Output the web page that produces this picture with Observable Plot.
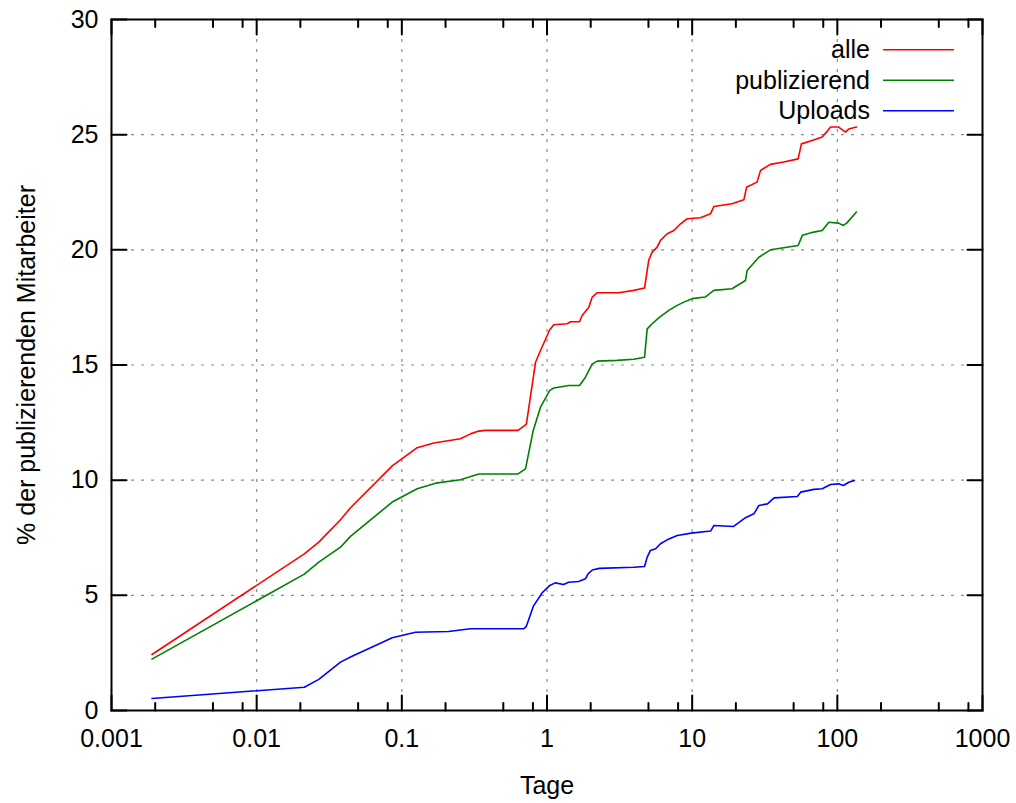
<!DOCTYPE html>
<html><head><meta charset="utf-8">
<script src="https://cdn.jsdelivr.net/npm/d3@7"></script>
<script src="https://cdn.jsdelivr.net/npm/@observablehq/plot@0.6"></script>
<style>body{margin:0;background:#fff}#chart{width:1016px;height:803px}</style>
</head><body><div id="chart"></div>
<script>
// [Tage, % der publizierenden Mitarbeiter]
const alle = [[0.0019,2.43],[0.0213,6.80],[0.0268,7.31],[0.0378,8.28],[0.0443,8.80],[0.0859,10.62],[0.1276,11.41],[0.166,11.61],[0.2535,11.80],[0.297,12.01],[0.339,12.13],[0.377,12.16],[0.632,12.16],[0.711,12.40],[0.722,12.45],[0.834,15.12],[0.902,15.63],[1.045,16.53],[1.114,16.75],[1.376,16.79],[1.452,16.88],[1.675,16.88],[1.746,17.15],[1.94,17.51],[2.05,17.95],[2.22,18.14],[3.12,18.14],[3.96,18.24],[4.70,18.34],[5.02,19.54],[5.30,19.90],[5.74,20.12],[6.05,20.41],[6.73,20.70],[7.48,20.84],[8.32,21.13],[9.25,21.35],[11.4,21.39],[13.4,21.57],[14.1,21.88],[18.8,22.00],[22.7,22.17],[23.7,22.72],[28.0,22.94],[29.6,23.45],[34.6,23.71],[42.7,23.81],[53.7,23.95],[56.6,24.60],[67,24.75],[78.7,24.90],[84.1,25.11],[89.7,25.33],[102,25.33],[114,25.11],[120,25.25],[135.5,25.33]];
const publizierend = [[0.0019,2.23],[0.0213,5.92],[0.0268,6.44],[0.0378,7.09],[0.0443,7.56],[0.0859,9.05],[0.1276,9.63],[0.171,9.87],[0.2535,10.02],[0.339,10.27],[0.632,10.27],[0.711,10.49],[0.804,12.16],[0.902,13.17],[1.045,13.90],[1.114,14.00],[1.41,14.11],[1.675,14.11],[1.84,14.47],[2.05,15.05],[2.22,15.17],[3.04,15.20],[3.96,15.25],[4.70,15.34],[4.90,16.57],[5.30,16.79],[5.89,17.05],[6.9,17.37],[7.89,17.59],[8.75,17.73],[10.0,17.88],[12.3,17.95],[14.1,18.24],[18.8,18.31],[23.3,18.67],[23.9,19.10],[28.8,19.68],[34.6,20.00],[42.7,20.09],[53.7,20.19],[57.4,20.63],[68.8,20.77],[78.7,20.84],[87.3,21.20],[102,21.16],[110,21.06],[116,21.16],[135.5,21.64]];
const uploads = [[0.0019,0.52],[0.0213,1.01],[0.0268,1.35],[0.0378,2.10],[0.0443,2.32],[0.0859,3.16],[0.124,3.40],[0.21,3.43],[0.297,3.55],[0.692,3.55],[0.72,3.65],[0.804,4.52],[0.927,5.11],[1.045,5.43],[1.14,5.54],[1.3,5.47],[1.41,5.57],[1.65,5.60],[1.84,5.72],[1.92,5.93],[2.05,6.10],[2.29,6.17],[3.96,6.22],[4.70,6.25],[4.90,6.66],[5.16,6.95],[5.6,7.02],[6.05,7.24],[6.73,7.41],[7.89,7.60],[9.86,7.70],[13.4,7.79],[14.1,8.03],[19.3,7.99],[23.3,8.37],[26.6,8.54],[28.8,8.90],[33.0,8.97],[36.7,9.23],[53.0,9.29],[55.9,9.48],[68.8,9.60],[78.7,9.63],[89.7,9.81],[102,9.84],[110,9.77],[120,9.91],[131,9.99]];

const seriesNames = ["alle", "publizierend", "Uploads"];
const seriesColors = ["#ff0000", "#008000", "#0000ff"];
const seriesData = [alle, publizierend, uploads];

const xMajor = [0.001, 0.01, 0.1, 1, 10, 100, 1000];
const xLabels = ["0.001", "0.01", "0.1", "1", "10", "100", "1000"];
const xMinor = [0.002,0.005,0.008,0.02,0.05,0.08,0.2,0.5,0.8,2,5,8,20,50,80,200,500,800];
const yMajor = [0, 5, 10, 15, 20, 25, 30];
const xGrid = [0.01, 0.1, 1, 10, 100];
const yGrid = [5, 10, 15, 20, 25];

const rows = seriesData.flatMap((data, i) => data.map(([d, p]) => ({series: seriesNames[i], d, p})));

const font = "Arial, 'Liberation Sans', Helvetica, sans-serif";
const fs = 25;
const tickShape = {draw(ctx, l) { ctx.moveTo(0, 0); ctx.lineTo(0, -l); }};
const tk = {stroke: "black", strokeWidth: 2, anchor: "start", shape: tickShape};
const gridStyle = {stroke: "#8a8a8a", strokeOpacity: 1, strokeWidth: 1.2, strokeDasharray: "3,7"};

const legendMark = (index, scales, values, dims) => {
  const g = d3.create("svg:g").attr("font-family", font).attr("font-size", fs);
  const xr = dims.width - dims.marginRight;
  seriesNames.forEach((name, i) => {
    const y = dims.marginTop + 30.7 + i * 30.5;
    g.append("text").attr("x", xr - 112).attr("y", y).attr("dy", "0.35em")
      .attr("text-anchor", "end").attr("fill", "black").text(name);
    g.append("line").attr("x1", xr - 99).attr("x2", xr - 28).attr("y1", y).attr("y2", y)
      .attr("stroke", seriesColors[i]).attr("stroke-width", 1.6);
  });
  return g.node();
};

const chart = Plot.plot({
  width: 1016, height: 803,
  marginLeft: 111, marginRight: 34, marginTop: 19, marginBottom: 93,
  style: {fontFamily: font, fontSize: fs + "px", background: "white", color: "black"},
  x: {type: "log", domain: [0.001, 1000], label: null},
  y: {domain: [0, 30], label: null},
  color: {domain: seriesNames, range: seriesColors},
  marks: [
    Plot.gridX(xGrid, gridStyle),
    Plot.gridY(yGrid, gridStyle),
    Plot.line(rows, {x: "d", y: "p", z: "series", stroke: "series", strokeWidth: 1.6}),
    Plot.frame({stroke: "black", strokeWidth: 2}),
    Plot.vector(xMajor, {x: d => d, frameAnchor: "bottom", length: 15, rotate: 0, ...tk}),
    Plot.vector(xMinor, {x: d => d, frameAnchor: "bottom", length: 7.5, rotate: 0, ...tk}),
    Plot.vector(xMajor, {x: d => d, frameAnchor: "top", length: 15, rotate: 180, ...tk}),
    Plot.vector(xMinor, {x: d => d, frameAnchor: "top", length: 7.5, rotate: 180, ...tk}),
    Plot.vector(yMajor, {y: d => d, frameAnchor: "left", length: 15, rotate: 90, ...tk}),
    Plot.vector(yMajor, {y: d => d, frameAnchor: "right", length: 15, rotate: -90, ...tk}),
    Plot.axisX(xMajor, {anchor: "bottom", tickSize: 0, tickPadding: 19, fontSize: fs,
      tickFormat: d => xLabels[xMajor.indexOf(d)]}),
    Plot.axisY(yMajor, {anchor: "left", tickSize: 0, tickPadding: 13, fontSize: fs}),
    Plot.text(["Tage"], {text: d => d, frameAnchor: "bottom", dy: 75, lineAnchor: "middle", textAnchor: "middle", fontSize: fs}),
    Plot.text(["% der publizierenden Mitarbeiter"], {text: d => d, frameAnchor: "left", dx: -85, rotate: -90, lineAnchor: "middle", textAnchor: "middle", fontSize: fs}),
    legendMark
  ]
});
document.getElementById("chart").append(chart);
</script>
</body></html>
